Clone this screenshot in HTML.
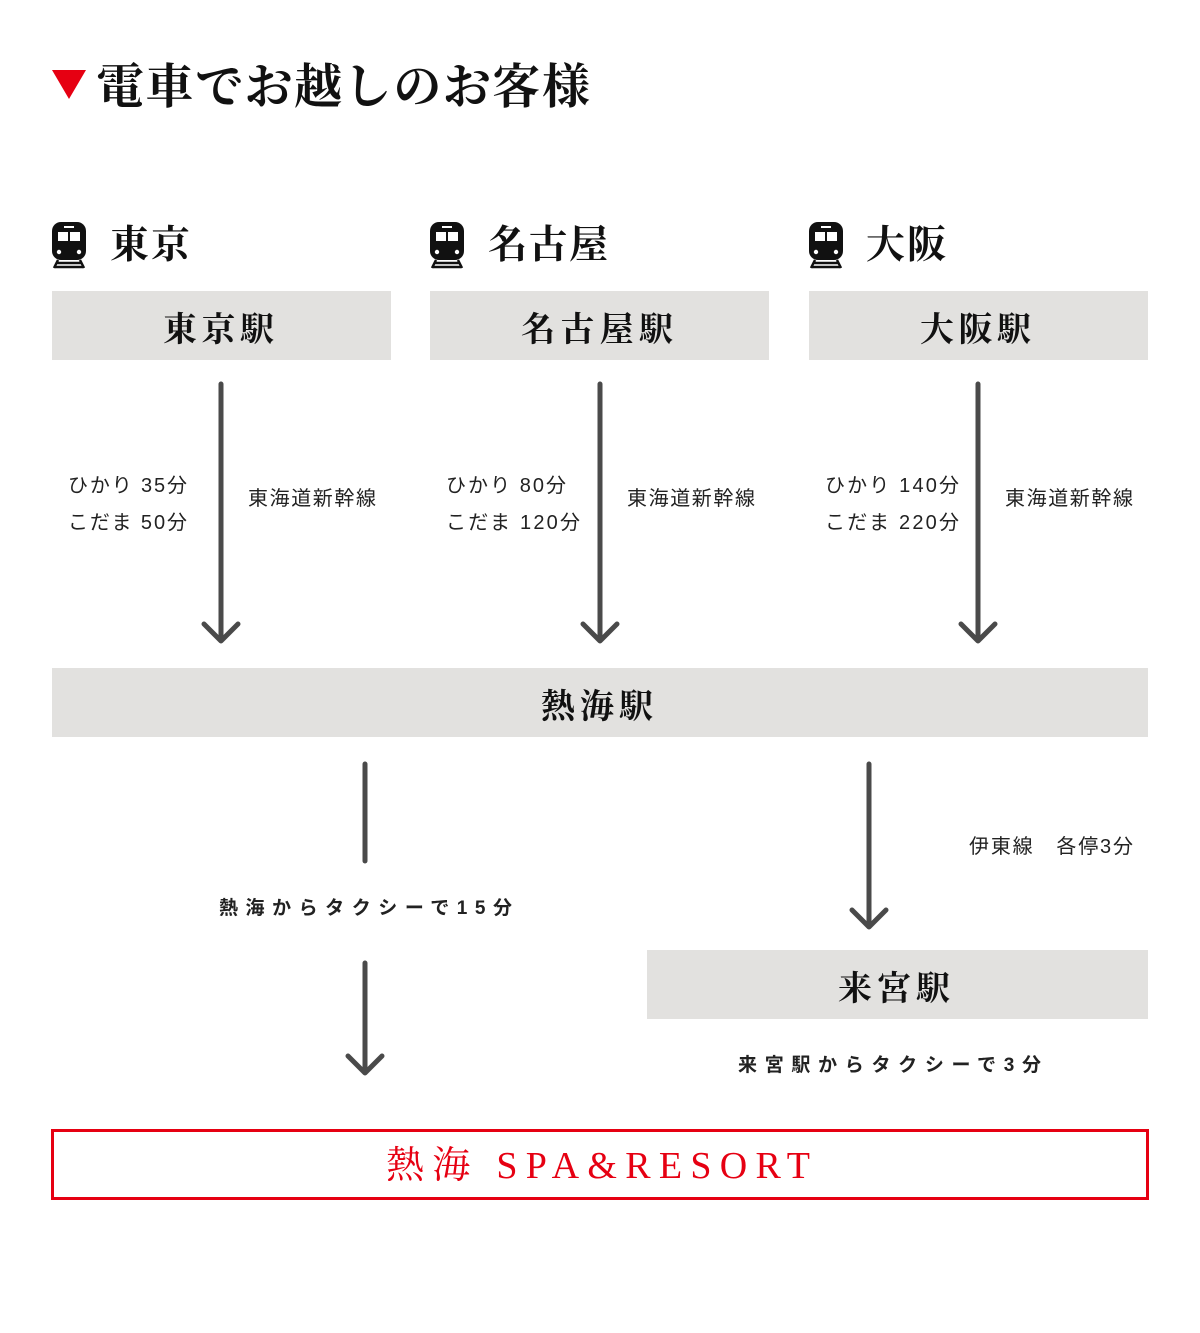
<!DOCTYPE html>
<html><head><meta charset="utf-8"><style>
html,body{margin:0;padding:0;background:#fff}
svg{display:block}
.s{font-family:"Liberation Serif","Noto Serif CJK JP","Noto Serif CJK SC",serif;fill:#111}
.g{font-family:"Liberation Sans","Noto Sans CJK JP",sans-serif;fill:#222}
</style></head><body>
<svg width="1200" height="1333" viewBox="0 0 1200 1333" xmlns="http://www.w3.org/2000/svg">
<defs>
<g id="train">
<rect x="0" y="0" width="34" height="38" rx="9" fill="#111"/>
<rect x="6" y="10" width="10" height="9" fill="#fff"/>
<rect x="18" y="10" width="10" height="9" fill="#fff"/>
<rect x="12" y="4" width="10" height="2" fill="#fff"/>
<circle cx="7" cy="30" r="2.2" fill="#fff"/>
<circle cx="27" cy="30" r="2.2" fill="#fff"/>
<path d="M6 38 L2 46 M28 38 L32 46 M5 41 H29 M3 45 H31" stroke="#111" stroke-width="2.5" fill="none"/>
</g>
</defs>
<polygon points="52,70 86,70 69,99" fill="#e60012"/>
<text class="s" x="96" y="103" font-size="48" font-weight="bold" textLength="494" lengthAdjust="spacing">電車でお越しのお客様</text>

<use href="#train" x="52" y="222"/>
<use href="#train" x="430" y="222"/>
<use href="#train" x="809" y="222"/>
<text class="s" x="110" y="258" font-size="39" font-weight="bold" textLength="80">東京</text>
<text class="s" x="488" y="258" font-size="39" font-weight="bold" textLength="120">名古屋</text>
<text class="s" x="866" y="258" font-size="39" font-weight="bold" textLength="80">大阪</text>

<g fill="#e2e1df">
<rect x="52" y="291" width="339" height="69"/>
<rect x="430" y="291" width="339" height="69"/>
<rect x="809" y="291" width="339" height="69"/>
<rect x="52" y="668" width="1096" height="69"/>
<rect x="647" y="950" width="501" height="69"/>
</g>
<g class="s" font-size="34" font-weight="bold" letter-spacing="3">
<text x="163" y="341" textLength="114">東京駅</text>
<text x="521" y="341" textLength="155">名古屋駅</text>
<text x="920" y="341" textLength="114">大阪駅</text>
<text x="541" y="718" textLength="115">熱海駅</text>
<text x="838" y="1000" textLength="115">来宮駅</text>
</g>

<g stroke="#4a4a4a" stroke-width="5" stroke-linecap="round" fill="none" stroke-linejoin="round">
<path d="M221 384 V640 M204 624 L221 641 L238 624"/>
<path d="M600 384 V640 M583 624 L600 641 L617 624"/>
<path d="M978 384 V640 M961 624 L978 641 L995 624"/>
<path d="M365 764 V861"/>
<path d="M365 963 V1072 M348 1056 L365 1073 L382 1056"/>
<path d="M869 764 V926 M852 910 L869 927 L886 910"/>
</g>

<g class="g" font-size="20">
<text x="68" y="492" textLength="119">ひかり 35分</text>
<text x="68" y="529" textLength="119">こだま 50分</text>
<text x="248" y="505" textLength="128">東海道新幹線</text>
<text x="446" y="492" textLength="120">ひかり 80分</text>
<text x="446" y="529" textLength="134">こだま 120分</text>
<text x="627" y="505" textLength="128">東海道新幹線</text>
<text x="825" y="492" textLength="134">ひかり 140分</text>
<text x="825" y="529" textLength="134">こだま 220分</text>
<text x="1005" y="505" textLength="128">東海道新幹線</text>
<text x="969" y="853" textLength="164">伊東線　各停3分</text>
</g>
<g class="g" font-size="19" font-weight="bold">
<text x="219" y="914" textLength="293">熱海からタクシーで15分</text>
<text x="738" y="1071" textLength="303">来宮駅からタクシーで3分</text>
</g>

<rect x="52.5" y="1130.5" width="1095" height="68" fill="none" stroke="#e60012" stroke-width="3"/>
<text x="386" y="1178" font-size="38" fill="#e60012" font-family="Liberation Serif,'Noto Serif CJK JP',serif" textLength="424" lengthAdjust="spacing">熱海 SPA&amp;RESORT</text>
</svg>
</body></html>
